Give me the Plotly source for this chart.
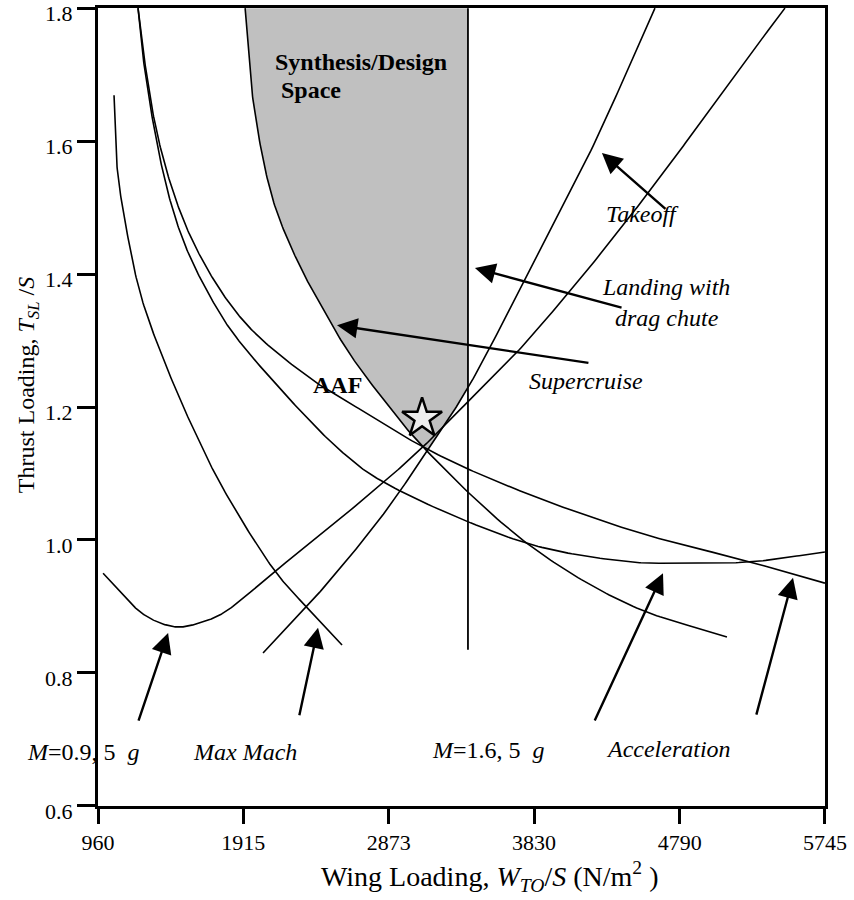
import plotly.graph_objects as go
import numpy as np

# ---- Data (wing loading W_TO/S in N/m^2, thrust loading T_SL/S) ----
x_ticks = [960, 1915, 2873, 3830, 4790, 5745]
y_ticks = [0.6, 0.8, 1.0, 1.2, 1.4, 1.6, 1.8]
y_ticktext = ["0.6", "0.8", "1.0", "1.2", "1.4", "1.6", "1.8"]

supercruise_ws = [1928, 1980, 2112, 2290, 2408, 2599, 2816, 3099, 3784, 4462, 5100]
supercruise_tl = [1.80, 1.662, 1.511, 1.411, 1.361, 1.286, 1.218, 1.140, 0.995, 0.902, 0.854]

takeoff_ws = [2046, 2375, 2816, 3112, 3395, 3757, 4205, 4626]
takeoff_tl = [0.830, 0.910, 1.032, 1.129, 1.229, 1.386, 1.586, 1.800]

m09_ws = [993, 1125, 1236, 1348, 1480, 1612, 1783, 2125, 2441, 2836, 3099, 3408, 3672, 4054, 4422, 4791, 5126, 5482]
m09_tl = [0.950, 0.917, 0.892, 0.877, 0.869, 0.874, 0.890, 0.953, 1.011, 1.086, 1.140, 1.211, 1.271, 1.371, 1.475, 1.586, 1.692, 1.800]

maxmach_ws = [1065, 1085, 1151, 1250, 1454, 1631, 1776, 2125, 2336, 2566]
maxmach_tl = [1.669, 1.561, 1.462, 1.361, 1.236, 1.146, 1.080, 0.953, 0.898, 0.842]

accel_ws = [1223, 1250, 1335, 1434, 1546, 1710, 1849, 2224, 2553, 2816, 3784, 4462, 4705, 5251, 5745]
accel_tl = [1.80, 1.737, 1.612, 1.511, 1.436, 1.361, 1.311, 1.211, 1.135, 1.090, 0.995, 0.967, 0.965, 0.967, 0.982]

m16_ws = [1223, 1256, 1348, 1473, 1612, 1809, 2007, 2401, 2553, 3099, 3606, 4462, 5251, 5745]
m16_tl = [1.80, 1.737, 1.612, 1.511, 1.436, 1.361, 1.308, 1.236, 1.215, 1.140, 1.086, 1.015, 0.967, 0.935]

landing_ws = [3395, 3395]
landing_tl = [0.835, 1.80]

design_point_ws = [3093]
design_point_tl = [1.183]

# arrows: (tip_ws, tip_tl, tail_ws, tail_tl)
arrows = [
    (1421, 0.860, 1223, 0.726),   # M=0.9, 5g
    (2408, 0.868, 2283, 0.734),   # Max Mach
    (4679, 0.950, 4225, 0.726),   # Acceleration (left)
    (5535, 0.943, 5291, 0.735),   # Acceleration (right)
    (4277, 1.582, 4705, 1.496),   # Takeoff
    (3441, 1.409, 4416, 1.349),   # Landing
    (2533, 1.323, 4198, 1.266),   # Supercruise
]

# text labels (data coordinates)
labels = [
    ("<i>Takeoff</i>", 4541, 1.490),
    ("<i>Landing with</i><br><i>drag chute</i>", 4699, 1.357),
    ("<i>Supercruise</i>", 4172, 1.239),
    ("<i>Max Mach</i>", 1928, 0.681),
    ("<i>M</i>=1.6, 5  <i>g</i>", 3527, 0.684),
    ("<i>Acceleration</i>", 4718, 0.686),
    ("<b>AAF</b>", 2533, 1.233),
]

SERIF = "Liberation Serif, Times New Roman, serif"
X0, X1 = 960, 5745
Y0, Y1 = 0.6, 1.8


def smooth(xs, ys, n=30, alpha=0.5):
    """Centripetal Catmull-Rom through the given points (in normalised axis space)."""
    P = np.column_stack([(np.asarray(xs, float) - X0) / (X1 - X0) * 727.0,
                         (np.asarray(ys, float) - Y0) / (Y1 - Y0) * 798.0])
    P = np.vstack([2 * P[0] - P[1], P, 2 * P[-1] - P[-2]])
    out = []
    m = len(P)
    for i in range(1, m - 2):
        p0, p1, p2, p3 = P[i - 1], P[i], P[i + 1], P[i + 2]
        t0 = 0.0
        t1 = t0 + max(np.linalg.norm(p1 - p0), 1e-6) ** alpha
        t2 = t1 + max(np.linalg.norm(p2 - p1), 1e-6) ** alpha
        t3 = t2 + max(np.linalg.norm(p3 - p2), 1e-6) ** alpha
        for t in np.linspace(t1, t2, n, endpoint=(i == m - 3)):
            a1 = (t1 - t) / (t1 - t0) * p0 + (t - t0) / (t1 - t0) * p1
            a2 = (t2 - t) / (t2 - t1) * p1 + (t - t1) / (t2 - t1) * p2
            a3 = (t3 - t) / (t3 - t2) * p2 + (t - t2) / (t3 - t2) * p3
            b1 = (t2 - t) / (t2 - t0) * a1 + (t - t0) / (t2 - t0) * a2
            b2 = (t3 - t) / (t3 - t1) * a2 + (t - t1) / (t3 - t1) * a3
            c = (t2 - t) / (t2 - t1) * b1 + (t - t1) / (t2 - t1) * b2
            out.append(c)
    out = np.array(out)
    return X0 + out[:, 0] / 727.0 * (X1 - X0), Y0 + out[:, 1] / 798.0 * (Y1 - Y0)


sc_x, sc_y = smooth(supercruise_ws, supercruise_tl)
to_x, to_y = smooth(takeoff_ws, takeoff_tl)
m09_x, m09_y = smooth(m09_ws, m09_tl)
mm_x, mm_y = smooth(maxmach_ws, maxmach_tl)
ac_x, ac_y = smooth(accel_ws, accel_tl)
m16_x, m16_y = smooth(m16_ws, m16_tl)

# ---- Design space: above supercruise & takeoff, left of landing ----
diff = sc_y - np.interp(sc_x, to_x, to_y)
k = np.where(diff <= 0)[0][0]
tip_x = float(np.interp(0.0, [diff[k], diff[k - 1]], [sc_x[k], sc_x[k - 1]]))
tip_y = float(np.interp(tip_x, sc_x, sc_y))
keep_sc = sc_x < tip_x
keep_to = (to_x > tip_x) & (to_x < landing_ws[0])
poly_x = list(sc_x[keep_sc]) + [tip_x] + list(to_x[keep_to]) + \
    [landing_ws[0], landing_ws[1]]
poly_y = list(sc_y[keep_sc]) + [tip_y] + list(to_y[keep_to]) + \
    [float(np.interp(landing_ws[0], to_x, to_y)), landing_tl[1]]

fig = go.Figure()
fig.add_trace(go.Scatter(x=poly_x, y=poly_y, fill="toself", fillcolor="#c0c0c0",
                         line=dict(color="rgba(0,0,0,0)", width=0),
                         mode="lines", hoverinfo="skip", showlegend=False))

curve_line = dict(color="black", width=1.6)
for xs, ys in [(sc_x, sc_y), (to_x, to_y), (m09_x, m09_y),
               (mm_x, mm_y), (ac_x, ac_y), (m16_x, m16_y)]:
    fig.add_trace(go.Scatter(x=xs, y=ys, mode="lines", line=curve_line, showlegend=False))

fig.add_trace(go.Scatter(x=landing_ws, y=landing_tl, mode="lines",
                         line=dict(color="black", width=1.8), showlegend=False))

fig.add_trace(go.Scatter(x=design_point_ws, y=design_point_tl, mode="markers",
                         marker=dict(symbol="star", size=30, color="#eeeeee",
                                     line=dict(color="black", width=2.5)),
                         showlegend=False))

annotations = []
for tip_xx, tip_yy, tail_x, tail_y in arrows:
    annotations.append(dict(x=tip_xx, y=tip_yy, ax=tail_x, ay=tail_y, xref="x", yref="y",
                            axref="x", ayref="y", text="", showarrow=True, arrowhead=2,
                            arrowsize=1.7, arrowwidth=2.4, arrowcolor="black", standoff=0))
for txt, lx, ly in labels:
    annotations.append(dict(x=lx, y=ly, xref="x", yref="y", text=txt, showarrow=False,
                            font=dict(family=SERIF, size=24, color="black"),
                            xanchor="center", yanchor="middle", align="center"))

# label left of the y axis (outside data range -> paper coords)
annotations.append(dict(x=-0.0206, y=0.0675, xref="paper", yref="paper",
                        text="<i>M</i>=0.9, 5  <i>g</i>", showarrow=False,
                        xanchor="center", yanchor="middle",
                        font=dict(family=SERIF, size=24, color="black")))

annotations.append(dict(x=2112, y=1.719, xref="x", yref="y", text="<b>Synthesis/Design</b>",
                        showarrow=False, xanchor="left", yanchor="middle",
                        font=dict(family=SERIF, size=24, color="black")))
annotations.append(dict(x=2151, y=1.677, xref="x", yref="y", text="<b>Space</b>",
                        showarrow=False, xanchor="left", yanchor="middle",
                        font=dict(family=SERIF, size=24, color="black")))

# axis titles
annotations.append(dict(x=0.538, y=-0.088, xref="paper", yref="paper",
                        text="Wing Loading, <i>W<sub>TO</sub></i>/<i>S</i> (N/m<sup>2</sup> )",
                        showarrow=False, xanchor="center", yanchor="middle",
                        font=dict(family=SERIF, size=28, color="black")))
annotations.append(dict(x=-0.097, y=0.528, xref="paper", yref="paper",
                        text="Thrust Loading, <i>T<sub>SL</sub></i> /<i>S</i>",
                        showarrow=False, textangle=-90, xanchor="center", yanchor="middle",
                        font=dict(family=SERIF, size=24, color="black")))

fig.update_layout(
    width=854, height=900,
    margin=dict(l=98, r=29, t=8, b=94, autoexpand=False),
    plot_bgcolor="white", paper_bgcolor="white",
    showlegend=False,
    annotations=annotations,
    xaxis=dict(range=[X0 - 0.5, X1 + 0.5], tickvals=x_ticks, ticktext=[str(v) for v in x_ticks],
               showline=True, linecolor="black", linewidth=3, mirror=True,
               ticks="outside", ticklen=15, tickwidth=3, tickcolor="black",
               showgrid=False, zeroline=False, automargin=False, ticklabeloverflow="allow",
               tickfont=dict(family=SERIF, size=22, color="black")),
    yaxis=dict(range=[Y0 - 0.0002, Y1 + 0.0002], tickvals=y_ticks, ticktext=y_ticktext,
               showline=True, linecolor="black", linewidth=3, mirror=True,
               ticks="outside", ticklen=18, tickwidth=3, tickcolor="black",
               showgrid=False, zeroline=False, automargin=False, ticklabeloverflow="allow",
               ticklabelshift=5,
               tickfont=dict(family=SERIF, size=22, color="black")),
)

fig.write_html("out.html", config={"displayModeBar": False},
               post_script="document.body.style.margin='0px';document.body.style.padding='0px';")
